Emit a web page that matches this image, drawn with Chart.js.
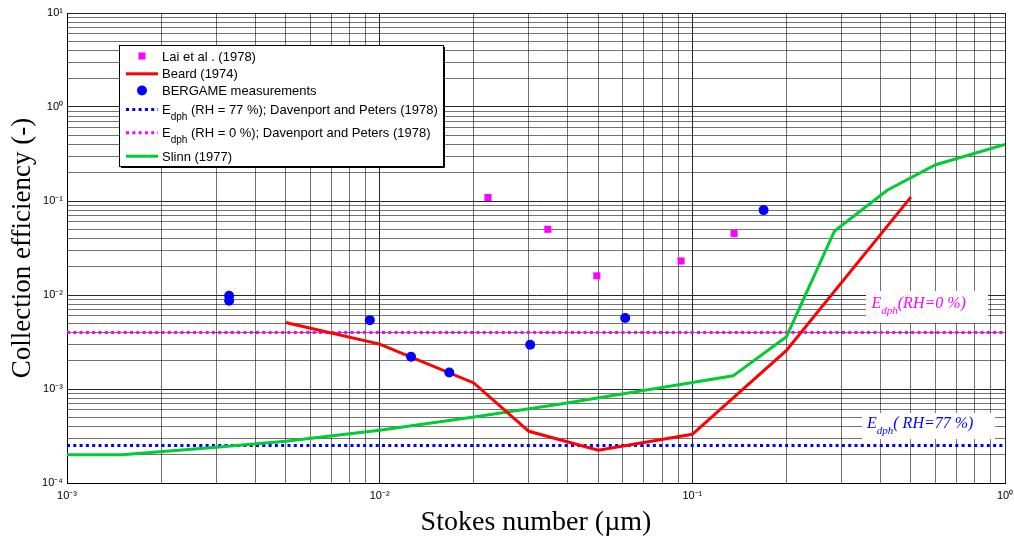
<!DOCTYPE html>
<html>
<head>
<meta charset="utf-8">
<script src="https://cdn.jsdelivr.net/npm/chart.js@4.4.1/dist/chart.umd.min.js"></script>
<style>
html,body{margin:0;padding:0;background:#fff;}
#wrap{width:1014px;height:544px;position:relative;}
</style>
</head>
<body>
<div id="wrap"><canvas id="c" width="1014" height="544"></canvas></div>
<script>
// ---- data ----
const laiX = [0.0222, 0.0345, 0.0495, 0.092, 0.136];
const laiY = [0.109, 0.050, 0.016, 0.023, 0.045];

const bergameX = [0.0033, 0.0033, 0.0093, 0.0126, 0.0167, 0.0303, 0.061, 0.169];
const bergameY = [0.0098, 0.0087, 0.0054, 0.0022, 0.0015, 0.00295, 0.0057, 0.080];

const beardX = [0.005, 0.01, 0.02, 0.03, 0.05, 0.1, 0.2, 0.5];
const beardY = [0.0051, 0.0030, 0.00116, 0.000355, 0.000223, 0.00033, 0.00257, 0.11];

const slinnX = [0.001, 0.0015, 0.003, 0.005, 0.01, 0.02, 0.0375, 0.1, 0.135, 0.2, 0.285, 0.42, 0.6, 1.0];
const slinnY = [0.0002, 0.0002, 0.00024, 0.000278, 0.000364, 0.000505, 0.000687, 0.00117, 0.00138, 0.0036, 0.048, 0.13, 0.243, 0.40];

const edphX = [0.001, 1.0];
const edph77Y = [0.00025, 0.00025];
const edph0Y = [0.004, 0.004];

const xTickPowers = [-3, -2, -1, 0];
const xTickLabels = ['10\u207B\u00B3', '10\u207B\u00B2', '10\u207B\u00B9', '10\u2070'];
const yTickPowers = [-4, -3, -2, -1, 0, 1];
const yTickLabels = ['10\u207B\u2074', '10\u207B\u00B3', '10\u207B\u00B2', '10\u207B\u00B9', '10\u2070', '10\u00B9'];

const seriesLabels = [
  'Lai et al . (1978)',
  'Beard (1974)',
  'BERGAME measurements',
  'E_dph (RH = 77 %); Davenport and Peters (1978)',
  'E_dph (RH = 0 %); Davenport and Peters (1978)',
  'Slinn (1977)'
];
const xTitle = 'Stokes number (\u00B5m)';
const yTitle = 'Collection efficiency (-)';
const annot0 = ['E', 'dph', '(RH=0 %)'];
const annot77 = ['E', 'dph', '( RH=77 %)'];

// ---- helpers ----
const pts = (xs, ys) => xs.map((x, i) => ({x: x, y: ys[i]}));
function logTicks(minP, maxP) {
  const t = [];
  for (let e = minP; e <= maxP; e++) {
    for (let m = 1; m <= 9; m++) {
      if (e === maxP && m > 1) break;
      t.push({value: parseFloat((m * Math.pow(10, e)).toPrecision(6))});
    }
  }
  return t;
}
function powLabel(value, powers, labels) {
  const l = Math.log10(value);
  for (let i = 0; i < powers.length; i++) {
    if (Math.abs(l - powers[i]) < 1e-9) return labels[i];
  }
  return '';
}
function isPow10(v) { const l = Math.log10(v); return Math.abs(l - Math.round(l)) < 1e-9; }

const MAG = '#ff00ff', BLUE = '#0000ff', RED = '#ff0000', GREEN = '#00cc33';

function drawSub(ctx, x, y, parts, mainFont, subFont, subDrop, color) {
  ctx.fillStyle = color;
  ctx.textBaseline = 'alphabetic';
  ctx.textAlign = 'left';
  ctx.font = mainFont;
  ctx.fillText(parts[0], x, y);
  x += ctx.measureText(parts[0]).width;
  ctx.font = subFont;
  ctx.fillText(parts[1], x, y + subDrop);
  x += ctx.measureText(parts[1]).width;
  ctx.font = mainFont;
  ctx.fillText(parts[2], x, y);
}

const boxesPlugin = {
  id: 'boxes',
  beforeDatasetsDraw(chart) {
    const ctx = chart.ctx, a = chart.chartArea;
    ctx.save();
    ctx.fillStyle = '#fff';
    ctx.fillRect(a.left + 799, a.top + 278, 122, 32);
    ctx.fillRect(a.left + 795, a.top + 400, 133, 26);
    const mf = 'italic 16px "Liberation Serif", "Times New Roman", serif';
    const sf = 'italic 11px "Liberation Serif", "Times New Roman", serif';
    drawSub(ctx, a.left + 804.5, a.top + 295, annot0, mf, sf, 6, MAG);
    drawSub(ctx, a.left + 800, a.top + 415, annot77, mf, sf, 6, BLUE);
    ctx.restore();
  }
};

const legendPlugin = {
  id: 'myLegend',
  afterDraw(chart) {
    const ctx = chart.ctx, a = chart.chartArea;
    const L = a.left + 52, T = a.top + 32, W = 324, H = 121;
    ctx.save();
    ctx.fillStyle = '#fff';
    ctx.fillRect(L, T, W, H);
    ctx.strokeStyle = '#000';
    ctx.lineWidth = 1;
    ctx.strokeRect(L + 0.5, T + 0.5, W, H);
    ctx.beginPath();
    ctx.moveTo(L + W + 1.5, T + 2); ctx.lineTo(L + W + 1.5, T + H + 1.5); ctx.lineTo(L + 2, T + H + 1.5);
    ctx.stroke();
    const baselines = [15.5, 33.3, 50, 69, 92.3, 115.7];
    const x0 = L + 7, x1 = L + 39, xc = L + 23, tx = L + 43;
    const mf = '13px "Liberation Sans", Arial, sans-serif';
    const sf = '10px "Liberation Sans", Arial, sans-serif';
    chart.data.datasets.forEach((ds, i) => {
      const by = T + baselines[i];
      const sy = by - 4.5;
      const kind = ds.legendKind;
      ctx.save();
      if (kind === 'rect') {
        ctx.fillStyle = ds.backgroundColor;
        ctx.fillRect(xc - 3.5, sy - 3.5, 7, 7);
      } else if (kind === 'circle') {
        ctx.fillStyle = ds.backgroundColor;
        ctx.beginPath(); ctx.arc(xc, sy, 5, 0, Math.PI * 2); ctx.fill();
      } else {
        ctx.strokeStyle = ds.borderColor;
        ctx.lineWidth = ds.borderWidth;
        if (ds.borderDash) ctx.setLineDash(ds.borderDash);
        ctx.beginPath(); ctx.moveTo(x0, sy); ctx.lineTo(x1, sy); ctx.stroke();
      }
      ctx.restore();
      const label = ds.label;
      if (label.indexOf('E_dph') === 0) {
        drawSub(ctx, tx, by, ['E', 'dph', ' ' + label.slice(6)], mf, sf, 6, '#000');
      } else {
        ctx.fillStyle = '#000';
        ctx.font = mf;
        ctx.textBaseline = 'alphabetic';
        ctx.textAlign = 'left';
        ctx.fillText(label, tx, by);
      }
    });
    ctx.restore();
  }
};

const gridColor = (c) => (c.tick && isPow10(c.tick.value)) ? 'rgba(0,0,0,0.85)' : 'rgba(0,0,0,0.55)';

new Chart(document.getElementById('c'), {
  type: 'scatter',
  data: {
    datasets: [
      {label: seriesLabels[0], data: pts(laiX, laiY), showLine: false, pointStyle: 'rect', pointRadius: 5,
       backgroundColor: MAG, borderColor: MAG, borderWidth: 0, order: 1, legendKind: 'rect'},
      {label: seriesLabels[1], data: pts(beardX, beardY), showLine: true, pointRadius: 0, borderColor: RED,
       backgroundColor: RED, borderWidth: 3, order: 3, legendKind: 'line'},
      {label: seriesLabels[2], data: pts(bergameX, bergameY), showLine: false, pointStyle: 'circle', pointRadius: 5,
       backgroundColor: BLUE, borderColor: BLUE, borderWidth: 0, order: 1, legendKind: 'circle'},
      {label: seriesLabels[3], data: pts(edphX, edph77Y), showLine: true, pointRadius: 0, borderColor: BLUE,
       backgroundColor: BLUE, borderWidth: 3, borderDash: [3, 3.3], order: 5, legendKind: 'line'},
      {label: seriesLabels[4], data: pts(edphX, edph0Y), showLine: true, pointRadius: 0, borderColor: MAG,
       backgroundColor: MAG, borderWidth: 3, borderDash: [3, 3.3], order: 5, legendKind: 'line'},
      {label: seriesLabels[5], data: pts(slinnX, slinnY), showLine: true, pointRadius: 0, borderColor: GREEN,
       backgroundColor: GREEN, borderWidth: 3, order: 4, legendKind: 'line'}
    ]
  },
  options: {
    responsive: false,
    animation: false,
    devicePixelRatio: 1,
    layout: {padding: {top: 13, right: 9, left: 0, bottom: 0}},
    plugins: {legend: {display: false}, tooltip: {enabled: false}},
    elements: {line: {tension: 0, borderCapStyle: 'butt', borderJoinStyle: 'miter'}},
    scales: {
      x: {
        type: 'logarithmic', min: 0.001, max: 1,
        afterBuildTicks: (s) => { s.ticks = logTicks(-3, 0); },
        afterFit: (s) => { s.height = 61; s.paddingLeft = 0; s.paddingRight = 0; },
        grid: {color: gridColor, lineWidth: 1, drawTicks: false},
        border: {display: true, color: '#000', width: 1},
        ticks: {
          autoSkip: false, maxRotation: 0, minRotation: 0, padding: 6, color: '#000',
          font: {family: '"Liberation Sans", Arial, sans-serif', size: 11},
          callback: (v) => powLabel(v, xTickPowers, xTickLabels)
        },
        title: {display: true, text: xTitle, color: '#000',
          font: {family: '"Liberation Serif", "Times New Roman", serif', size: 28},
          padding: {top: 0, bottom: 5}}
      },
      y: {
        type: 'logarithmic', min: 0.0001, max: 10,
        afterBuildTicks: (s) => { s.ticks = logTicks(-4, 1); },
        afterFit: (s) => { s.width = 67; s.paddingTop = 0; s.paddingBottom = 0; },
        grid: {color: gridColor, lineWidth: 1, drawTicks: false},
        border: {display: true, color: '#000', width: 1},
        ticks: {
          autoSkip: false, padding: 4, color: '#000',
          font: {family: '"Liberation Sans", Arial, sans-serif', size: 11},
          callback: (v) => powLabel(v, yTickPowers, yTickLabels)
        },
        title: {display: true, text: yTitle, color: '#000',
          font: {family: '"Liberation Serif", "Times New Roman", serif', size: 27},
          padding: {top: 7, bottom: 0}}
      }
    }
  },
  plugins: [boxesPlugin, legendPlugin]
});
</script>
</body>
</html>
